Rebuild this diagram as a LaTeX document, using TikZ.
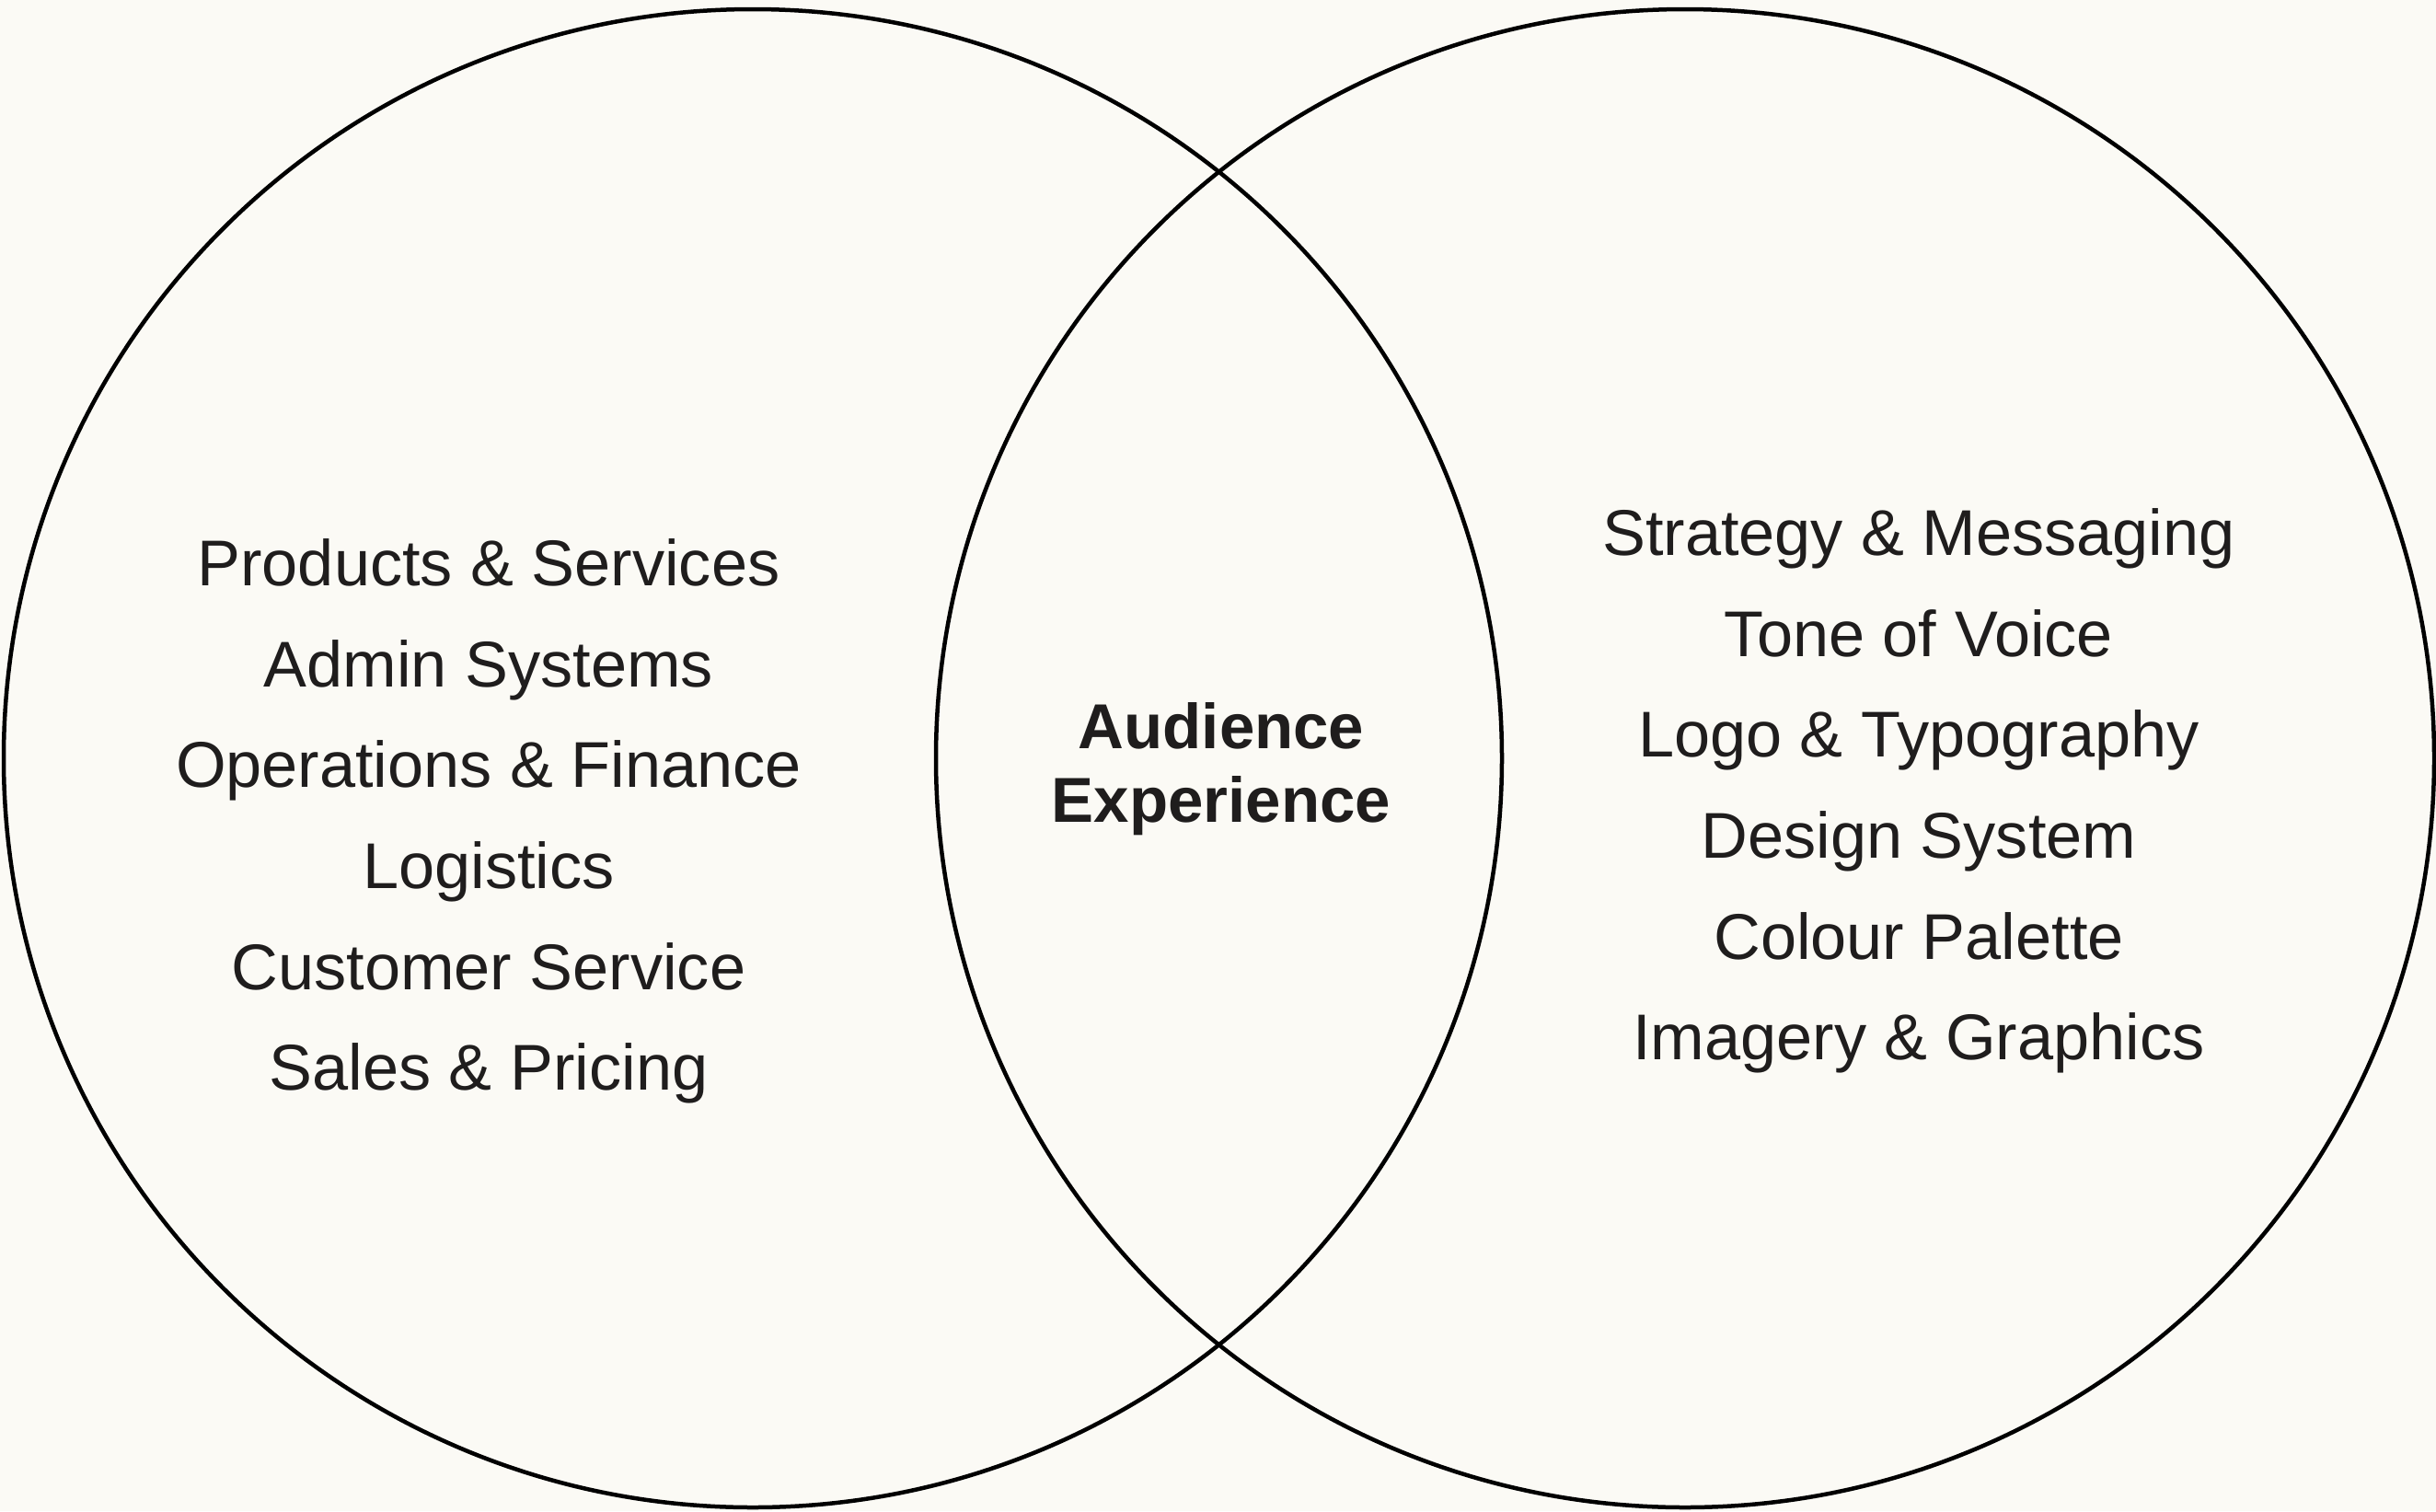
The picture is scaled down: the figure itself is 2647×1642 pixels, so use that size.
\documentclass[tikz,border=0pt]{standalone}
\usepackage{fontspec}
\setmainfont{Liberation Sans}
\definecolor{bg}{HTML}{FBFAF5}
\definecolor{ink}{HTML}{1F1D1D}
\begin{document}
\begin{tikzpicture}[x=1pt,y=-1pt,
  ring/.style={draw=black,line width=4.5pt},
  item/.style={anchor=base,text=ink,inner sep=0pt,font=\fontsize{70.3}{80}\selectfont},
  core/.style={anchor=base,text=ink,inner sep=0pt,font=\fontsize{69}{80}\selectfont\bfseries}]
\fill[bg] (0,0) rectangle (2647,1642);
\useasboundingbox (0,0) rectangle (2647,1642);
\node[ring,circle,minimum size=1628pt,inner sep=0pt] (L) at (818,824) {};
\node[ring,circle,minimum size=1628pt,inner sep=0pt] (R) at (1831,824) {};
% left items
\node[item] (l1) at (531,636) {Products \& Services};
\node[item] (l2) at (531,746) {Admin Systems};
\node[item] (l3) at (531,855) {Operations \& Finance};
\node[item] (l4) at (531,965) {Logistics};
\node[item] (l5) at (531,1075) {Customer Service};
\node[item] (l6) at (531,1184) {Sales \& Pricing};
% right items
\node[item] (r1) at (2085,603) {Strategy \& Messaging};
\node[item] (r2) at (2085,713) {Tone of Voice};
\node[item] (r3) at (2085,822) {Logo \& Typography};
\node[item] (r4) at (2085,932) {Design System};
\node[item] (r5) at (2085,1042) {Colour Palette};
\node[item] (r6) at (2085,1151) {Imagery \& Graphics};
% centre
\node[core] (c1) at (1327,813) {Audience};
\node[core] (c2) at (1327,893) {Experience};
\end{tikzpicture}
\end{document}
